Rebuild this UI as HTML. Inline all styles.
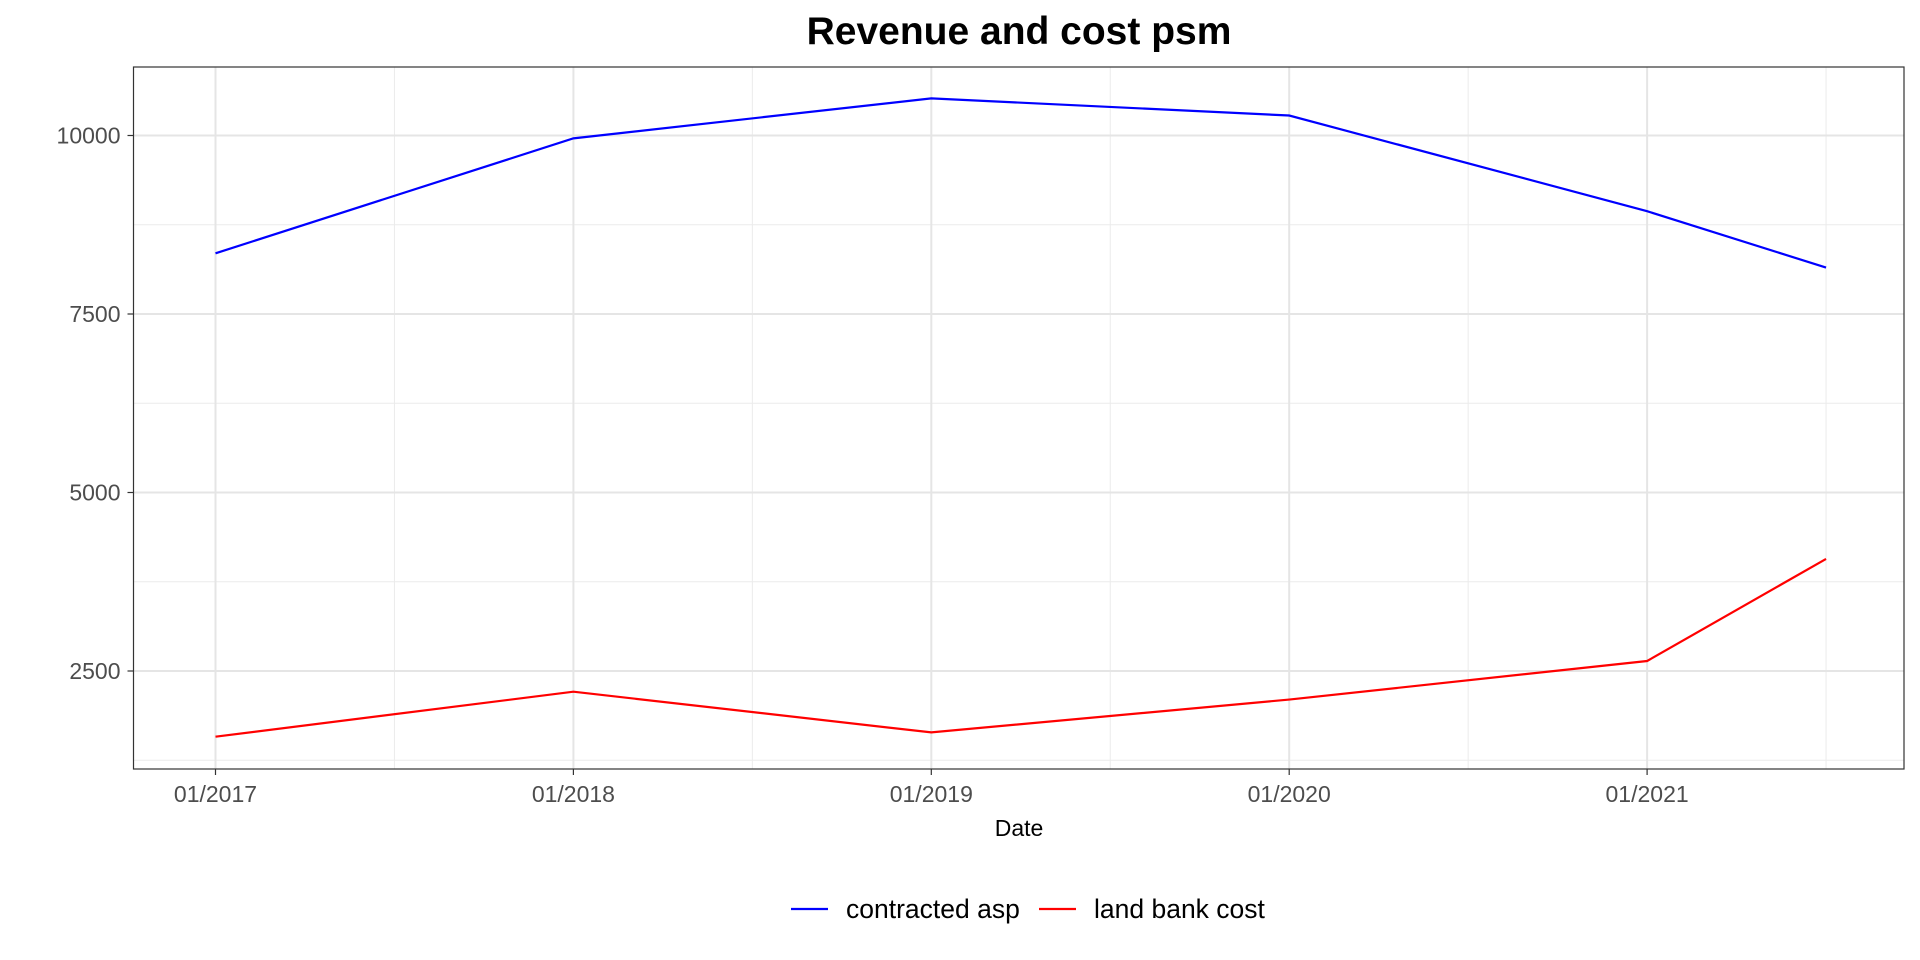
<!DOCTYPE html>
<html><head><meta charset="utf-8"><style>
html,body{margin:0;padding:0;background:#fff}
svg{display:block;font-family:"Liberation Sans",Arial,sans-serif}
</style></head><body>
<svg id="chart" width="1920" height="960">
<text x="1019" y="44" text-anchor="middle" font-size="39" font-weight="bold" fill="#000">Revenue and cost psm</text>
<g id="grid"></g>
<g id="series"></g>
<rect x="133.5" y="67" width="1770.5" height="702" fill="none" stroke="#333" stroke-width="1.2"/>
<g id="axes"></g>
<text x="1019" y="836" text-anchor="middle" font-size="23" fill="#000">Date</text>
<g>
<g>
<line x1="791" y1="909" x2="828" y2="909" stroke="#0000ff" stroke-width="2.2"/>
<text x="846" y="918" font-size="26.5" fill="#000">contracted asp</text></g>
<g>
<line x1="1039" y1="909" x2="1076" y2="909" stroke="#ff0000" stroke-width="2.2"/>
<text x="1094" y="918" font-size="26.5" fill="#000">land bank cost</text></g>
</g>
</svg>
<script>
const dates = [2017, 2018, 2019, 2020, 2021, 2021.5];
const contractedAsp = [8350, 9960, 10520, 10280, 8940, 8150];
const landBankCost = [1580, 2210, 1640, 2100, 2640, 4070];
const yTicks = [2500, 5000, 7500, 10000];
const yMinor = [1250, 3750, 6250, 8750];
const xTicks = [2017, 2018, 2019, 2020, 2021];
const xTickLabels = ["01/2017", "01/2018", "01/2019", "01/2020", "01/2021"];
const xMinor = [2017.5, 2018.5, 2019.5, 2020.5, 2021.5];

const L=133.5,R=1904,T=67,B=769;
const x = d => 215.5 + (d-2017)*357.9;
const y = v => 671 - (v-2500)/2500*178.5;
const NS="http://www.w3.org/2000/svg";
function mk(tag,attrs,parent){const e=document.createElementNS(NS,tag);for(const k in attrs)e.setAttribute(k,attrs[k]);parent.appendChild(e);return e;}
const grid=document.getElementById('grid'),axes=document.getElementById('axes'),series=document.getElementById('series');
yMinor.forEach(v=>{if(y(v)<B&&y(v)>T){const l=mk('line',{x1:L,x2:R,y1:y(v),y2:y(v),stroke:'#ebebeb','stroke-width':1},grid);

}});
xMinor.forEach(d=>{const l=mk('line',{x1:x(d),x2:x(d),y1:T,y2:B,stroke:'#ebebeb','stroke-width':1},grid);

});
yTicks.forEach(v=>{const l=mk('line',{x1:L,x2:R,y1:y(v),y2:y(v),stroke:'#e5e5e5','stroke-width':2},grid);


const t=mk('line',{x1:L-6,x2:L,y1:y(v),y2:y(v),stroke:'#333','stroke-width':1.2},axes);


const tx=mk('text',{x:L-13,y:y(v)+8,'text-anchor':'end','font-size':23,fill:'#4d4d4d'},axes);
tx.textContent=v;

});
xTicks.forEach((d,i)=>{const l=mk('line',{x1:x(d),x2:x(d),y1:T,y2:B,stroke:'#e5e5e5','stroke-width':2},grid);


const t=mk('line',{x1:x(d),x2:x(d),y1:B,y2:B+6,stroke:'#333','stroke-width':1.2},axes);


const tx=mk('text',{x:x(d),y:B+33,'text-anchor':'middle','font-size':23,fill:'#4d4d4d'},axes);
tx.textContent=xTickLabels[i];

});
function line(vals,color,name){const p=mk('polyline',{points:vals.map((v,i)=>x(dates[i])+','+y(v)).join(' '),fill:'none',stroke:color,'stroke-width':2.2},series);

}
line(contractedAsp,'#0000ff','contracted-asp-line');
line(landBankCost,'#ff0000','land-bank-cost-line');
</script>
</body></html>
